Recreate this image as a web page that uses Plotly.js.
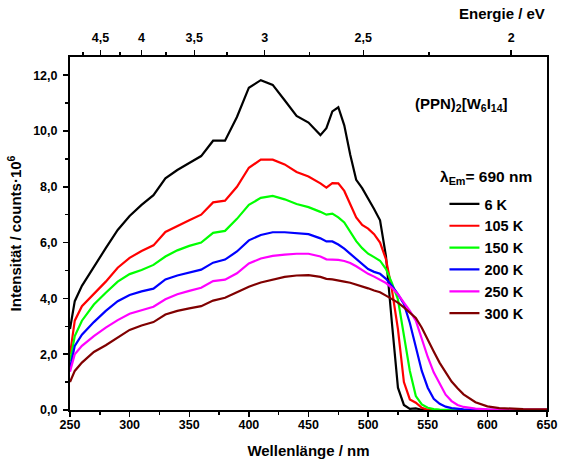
<!DOCTYPE html>
<html>
<head>
<meta charset="utf-8">
<script src="https://cdn.plot.ly/plotly-3.0.1.min.js"></script>
<style>
html,body{margin:0;padding:0;background:#fff;}
#chart{width:561px;height:464px;}
</style>
</head>
<body>
<div id="chart"></div>
<script>
const wavelength = [250,254,260,270,280,290,300,310,320,330,340,350,360,370,380,390,400,410,420,430,440,450,460,465,470,475,480,485,490,495,500,505,510,515,520,525,530,535,540,545,550,555,560,565,570,575,580,590,600,610,620,630,640,650];

const k6   = [2.9,3.9,4.45,5.15,5.8,6.45,6.95,7.35,7.7,8.3,8.6,8.85,9.1,9.65,9.65,10.5,11.55,11.82,11.65,11.1,10.54,10.3,9.85,10.1,10.7,10.85,10.2,9.15,8.25,7.95,7.6,7.2,6.8,5.5,3.1,0.8,0.18,0.04,0.06,0.01,0,0,0,0,0,0,0,0,0,0,0,0,0,0];
const k105 = [2.0,3.2,3.72,4.15,4.6,5.1,5.45,5.7,5.9,6.38,6.6,6.8,7.0,7.44,7.5,8.0,8.68,8.97,8.97,8.8,8.53,8.37,8.12,7.97,8.13,8.12,7.85,7.35,6.9,6.63,6.5,6.3,6.0,5.4,4.3,2.9,1.0,0.38,0.26,0.08,0.01,0,0,0,0,0,0,0,0,0,0,0,0,0];
const k150 = [1.75,2.65,3.2,3.78,4.2,4.6,4.87,5.02,5.2,5.5,5.72,5.88,6.0,6.35,6.42,6.85,7.35,7.6,7.67,7.55,7.38,7.27,7.1,7.0,7.04,6.9,6.72,6.4,6.05,5.8,5.6,5.48,5.35,5.05,4.55,3.96,2.7,1.4,0.5,0.2,0.08,0.03,0.01,0,0,0,0,0,0,0,0,0,0,0];
const k200 = [1.5,2.3,2.7,3.15,3.55,3.9,4.12,4.25,4.35,4.68,4.82,4.93,5.03,5.28,5.39,5.68,6.08,6.27,6.37,6.37,6.33,6.3,6.15,6.04,6.04,5.93,5.78,5.6,5.4,5.24,5.05,4.95,4.88,4.7,4.45,4.15,3.8,3.12,2.3,1.4,0.8,0.4,0.22,0.12,0.07,0.04,0.02,0.01,0,0,0,0,0.01,0];
const k250 = [1.37,2.0,2.3,2.65,2.95,3.22,3.45,3.57,3.7,3.97,4.15,4.27,4.38,4.62,4.67,4.9,5.25,5.43,5.52,5.57,5.6,5.6,5.5,5.4,5.39,5.38,5.34,5.27,5.15,5.0,4.88,4.78,4.67,4.55,4.38,4.15,3.85,3.55,3.2,2.55,1.9,1.35,0.95,0.55,0.32,0.18,0.11,0.05,0.02,0.01,0.01,0.01,0.01,0.01];
const k300 = [1.0,1.4,1.7,2.08,2.32,2.6,2.87,3.03,3.15,3.42,3.55,3.64,3.72,3.92,4.02,4.22,4.42,4.57,4.67,4.77,4.82,4.83,4.77,4.7,4.68,4.65,4.6,4.56,4.5,4.43,4.36,4.28,4.22,4.1,3.98,3.85,3.68,3.5,3.3,2.95,2.55,2.1,1.69,1.33,1.02,0.78,0.56,0.28,0.13,0.07,0.04,0.03,0.02,0.02];

const seriesNames  = ['6 K','105 K','150 K','200 K','250 K','300 K'];
const seriesColors = ['#000000','#ff0000','#00ff00','#0000ff','#ff00ff','#800000'];
const seriesValues = [k6,k105,k150,k200,k250,k300];

const energyMajor = [4.5,4,3.5,3,2.5,2];
const energyLabels = ['4,5','4','3,5','3','2,5','2'];
const energyMinor = [4.75,4.25,3.75,3.25,2.75,2.25];
const hc = 1239.84;

const traces = seriesValues.map((v,i)=>({
  x: wavelength, y: v, type:'scatter', mode:'lines',
  name: seriesNames[i],
  line:{color:seriesColors[i], width:2.2}
}));

const FAM = 'Liberation Sans, Arial, sans-serif';
const tickFont = {family:FAM, size:12.5, color:'#000', weight:'bold'};
const titleFont = {family:FAM, size:15, color:'#000', weight:'bold'};

const layout = {
  width:561, height:464,
  margin:{l:70, r:14, t:57, b:54},
  paper_bgcolor:'#fff', plot_bgcolor:'#fff',
  separators:', ',
  showlegend:true,
  legend:{x:0.785, y:0.629, xanchor:'left', yanchor:'top',
    font:{family:FAM, size:14.5, color:'#000', weight:'bold'},
    bgcolor:'rgba(0,0,0,0)', borderwidth:0, tracegroupgap:0},
  xaxis:{range:[250,650], tickmode:'linear', tick0:250, dtick:50,
    ticks:'outside', ticklen:5, tickwidth:1.5, tickcolor:'#000',
    minor:{dtick:25, ticks:'outside', ticklen:3, tickwidth:1.5, tickcolor:'#000'},
    showline:true, linewidth:2, linecolor:'#000', mirror:false,
    showgrid:false, zeroline:false, tickfont:tickFont, ticklabelstandoff:-3,
    title:{text:'Wellenlänge / nm', font:titleFont, standoff:14}},
  xaxis2:{overlaying:'x', side:'top', range:[250,650],
    tickmode:'array', tickvals: energyMajor.map(e=>hc/e), ticktext: energyLabels,
    ticks:'outside', ticklen:5, tickwidth:1.5, tickcolor:'#000',
    minor:{tickmode:'array', tickvals: energyMinor.map(e=>hc/e), ticks:'outside', ticklen:3, tickwidth:1.5, tickcolor:'#000'},
    showline:true, linewidth:2, linecolor:'#000',
    showgrid:false, zeroline:false, tickfont:tickFont, ticklabelstandoff:3},
  yaxis:{range:[0,12.65], tickmode:'linear', tick0:0, dtick:2, tickformat:'.1f',
    ticks:'outside', ticklen:5, tickwidth:1.5, tickcolor:'#000',
    minor:{dtick:1, ticks:'outside', ticklen:3, tickwidth:1.5, tickcolor:'#000'},
    showline:true, linewidth:2, linecolor:'#000', mirror:true,
    showgrid:false, zeroline:false, tickfont:tickFont, ticklabelstandoff:3,
    title:{text:'Intensität / counts·10<sup>6</sup>', font:titleFont, standoff:8}},
  annotations:[
    {xref:'paper', yref:'paper', x:1, y:1.122, xanchor:'right', yanchor:'middle', showarrow:false,
     text:'Energie / eV', font:titleFont},
    {xref:'paper', yref:'paper', x:0.72, y:0.865, xanchor:'left', yanchor:'middle', showarrow:false,
     text:'(PPN)<sub>2</sub>[W<sub>6</sub>I<sub>14</sub>]', font:{family:FAM, size:15, color:'#000', weight:'bold'}},
    {xref:'paper', yref:'paper', x:0.772, y:0.66, xanchor:'left', yanchor:'middle', showarrow:false,
     text:'λ<sub>Em</sub>= 690 nm', font:{family:FAM, size:15.5, color:'#000', weight:'bold'}}
  ]
};

traces.push({x:[250,650], y:[0,0], xaxis:'x2', yaxis:'y', type:'scatter', mode:'lines',
  line:{width:0, color:'rgba(0,0,0,0)'}, showlegend:false, hoverinfo:'skip'});

Plotly.newPlot('chart', traces, layout, {staticPlot:true, displayModeBar:false});
</script>
</body>
</html>
